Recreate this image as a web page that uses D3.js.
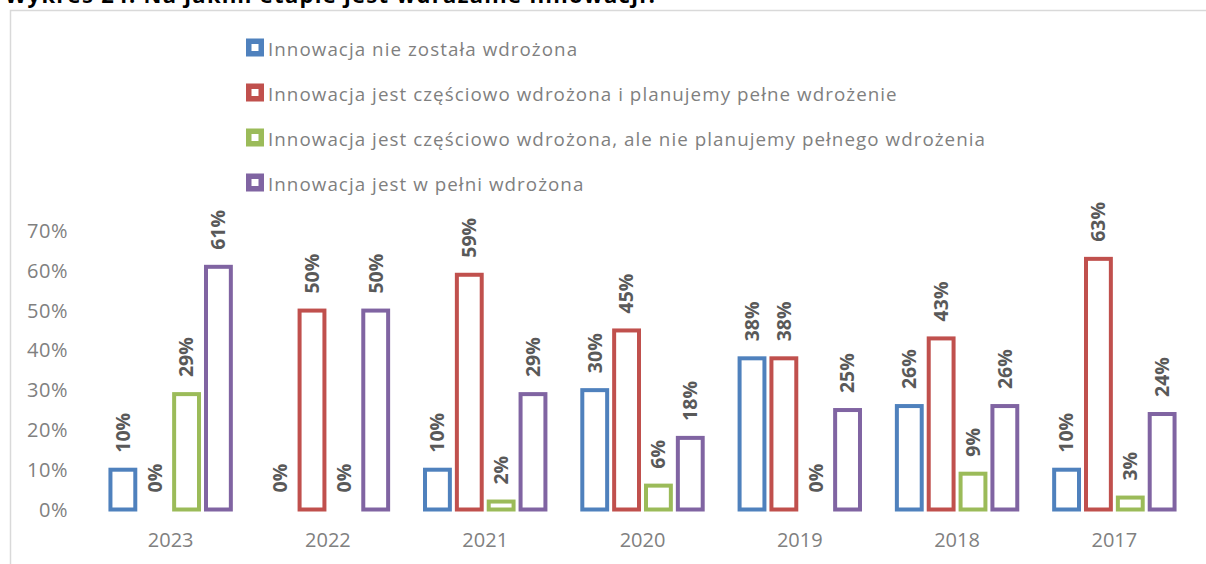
<!DOCTYPE html>
<html>
<head>
    <meta charset="utf-8">
    <script src="https://d3js.org/d3.v7.min.js"></script>
    <style>
        body { margin: 0; background: #fff; }
        svg text { font-family: "Open Sans", sans-serif; }
    </style>
</head>
<body>
    <div id="chart"></div>

    <script>
        // dane
        const years = ["2023", "2022", "2021", "2020", "2019", "2018", "2017"];
        const seriesNames = [
            "Innowacja nie została wdrożona",
            "Innowacja jest częściowo wdrożona i planujemy pełne wdrożenie",
            "Innowacja jest częściowo wdrożona, ale nie planujemy pełnego wdrożenia",
            "Innowacja jest w pełni wdrożona"
        ];
        const notImplemented   = [0.10, 0.00, 0.10, 0.30, 0.38, 0.26, 0.10];
        const partialPlanned   = [0.00, 0.50, 0.59, 0.45, 0.38, 0.43, 0.63];
        const partialNoPlan    = [0.29, 0.00, 0.02, 0.06, 0.00, 0.09, 0.03];
        const fullyImplemented = [0.61, 0.50, 0.29, 0.18, 0.25, 0.26, 0.24];
        const yTicks = [0, 0.1, 0.2, 0.3, 0.4, 0.5, 0.6, 0.7];
        const colors = ["#4f81bd", "#c0504d", "#9bbb59", "#8064a2"];

        const seriesValues = [notImplemented, partialPlanned, partialNoPlan, fullyImplemented];

        const width = 1206, height = 564;

        const svg = d3.select("#chart")
            .append("svg")
            .attr("width", width)
            .attr("height", height);

        // tytuł (ucięty u góry, jak w oryginale)
        svg.append("text")
            .attr("x", 5)
            .attr("y", 2.5)
            .attr("font-size", 22)
            .attr("font-weight", "bold")
            .attr("letter-spacing", 1.3)
            .attr("fill", "#000")
            .text("Wykres 24. Na jakim etapie jest wdrażanie innowacji?");

        // ramka obszaru wykresu
        svg.append("path")
            .attr("d", `M10.5,${height} V10.5 H${width}`)
            .attr("fill", "none")
            .attr("stroke", "#d9d9d9")
            .attr("stroke-width", 1.5);

        //////////////////////////////////////////////////////////////////////

        const x0 = d3.scaleBand()
            .domain(years)
            .range([92, 1193])
            .paddingInner(0.19)
            .paddingOuter(0.095);

        const x1 = d3.scaleBand()
            .domain(d3.range(seriesNames.length))
            .range([0, x0.bandwidth()]);

        const y = d3.scaleLinear()
            .domain([0, 0.7])
            .range([509.5, 231]);

        // oś Y
        svg.append("g")
            .selectAll("text")
            .data(yTicks)
            .enter()
            .append("text")
            .attr("x", 68)
            .attr("y", d => y(d))
            .attr("dy", "0.35em")
            .attr("text-anchor", "end")
            .attr("font-size", 20)
            .attr("letter-spacing", 0.5)
            .attr("fill", "#808080")
            .text(d => d3.format(".0%")(d));

        // oś X
        svg.append("g")
            .selectAll("text")
            .data(years)
            .enter()
            .append("text")
            .attr("x", d => x0(d) + x0.bandwidth() / 2)
            .attr("y", 547)
            .attr("text-anchor", "middle")
            .attr("font-size", 20)
            .attr("fill", "#808080")
            .text(d => d);

        // słupki
        const cells = [];
        years.forEach((yr, i) => {
            seriesValues.forEach((vals, s) => {
                cells.push({ year: yr, s: s, value: vals[i] });
            });
        });

        const sw = 4;
        const gap = 3;

        svg.append("g")
            .selectAll("rect")
            .data(cells.filter(d => d.value > 0))
            .enter()
            .append("rect")
            .attr("x", d => x0(d.year) + x1(d.s) + gap / 2 + sw / 2)
            .attr("width", x1.bandwidth() - gap - sw)
            .attr("y", d => y(d.value))
            .attr("height", d => y(0) - y(d.value))
            .attr("fill", "#fff")
            .attr("stroke", d => colors[d.s])
            .attr("stroke-width", sw);

        // etykiety danych (obrócone)
        svg.append("g")
            .selectAll("text")
            .data(cells)
            .enter()
            .append("text")
            .attr("transform", d => {
                const cx = x0(d.year) + x1(d.s) + x1.bandwidth() / 2;
                const cy = y(d.value) - 17;
                return `translate(${cx},${cy}) rotate(-90)`;
            })
            .attr("dy", "0.35em")
            .attr("text-anchor", "start")
            .attr("font-size", 19.5)
            .attr("font-weight", "bold")
            .attr("fill", "#595959")
            .text(d => d3.format(".0%")(d.value));

        // legenda
        const legend = svg.append("g")
            .selectAll("g")
            .data(seriesNames)
            .enter()
            .append("g")
            .attr("transform", (d, i) => `translate(246, ${47.5 + i * 45})`);

        legend.append("rect")
            .attr("x", 2.75)
            .attr("y", -6.25)
            .attr("width", 12.5)
            .attr("height", 12.5)
            .attr("fill", "#fff")
            .attr("stroke", (d, i) => colors[i])
            .attr("stroke-width", 5.5);

        legend.append("text")
            .attr("x", 22)
            .attr("y", 1.5)
            .attr("dy", "0.35em")
            .attr("font-size", 18.8)
            .attr("letter-spacing", 1.05)
            .attr("fill", "#7f7f7f")
            .text(d => d);
    </script>
</body>
</html>
